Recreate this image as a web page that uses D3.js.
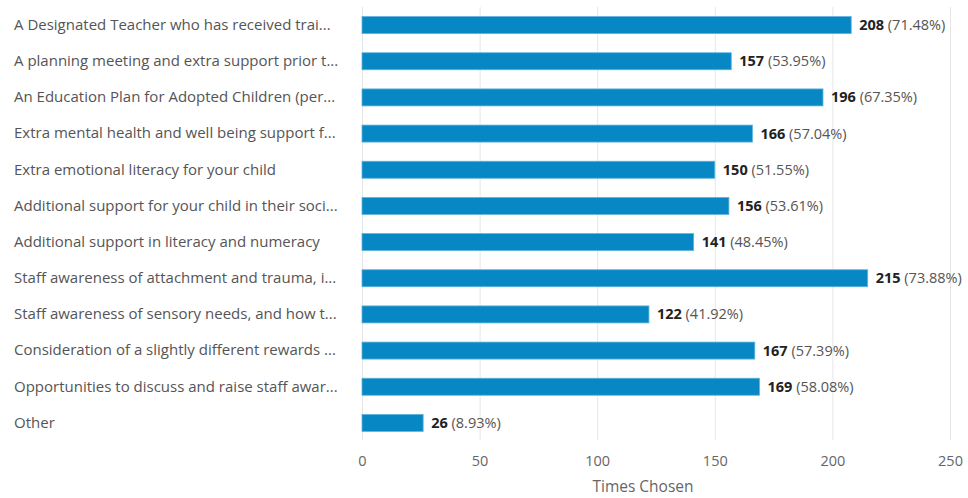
<!DOCTYPE html>
<html>
<head>
<meta charset="utf-8">
<script src="https://cdn.jsdelivr.net/npm/d3@7"></script>
<style>
  html, body { margin: 0; padding: 0; background: #fff; }
  svg { display: block; font-family: "Open Sans", sans-serif; }
</style>
</head>
<body>
<svg id="chart" width="968" height="498"></svg>
<script>
// Answer options (as displayed, truncated) and how often each was chosen
const categories = [
  "A Designated Teacher who has received trai...",
  "A planning meeting and extra support prior t...",
  "An Education Plan for Adopted Children (per...",
  "Extra mental health and well being support f...",
  "Extra emotional literacy for your child",
  "Additional support for your child in their soci...",
  "Additional support in literacy and numeracy",
  "Staff awareness of attachment and trauma, i...",
  "Staff awareness of sensory needs, and how t...",
  "Consideration of a slightly different rewards ...",
  "Opportunities to discuss and raise staff awar...",
  "Other"
];
const counts = [208, 157, 196, 166, 150, 156, 141, 215, 122, 167, 169, 26];
const percents = ["71.48%", "53.95%", "67.35%", "57.04%", "51.55%", "53.61%",
                  "48.45%", "73.88%", "41.92%", "57.39%", "58.08%", "8.93%"];
const xTicks = [0, 50, 100, 150, 200, 250];
const xTitle = "Times Chosen";

const svg = d3.select("#chart");
const plotLeft = 362, plotRight = 950, plotTop = 7, plotBottom = 441;

const x = d3.scaleLinear().domain([0, 250]).range([plotLeft, plotRight]);
const y = d3.scaleBand().domain(categories).range([plotTop, plotBottom])
  .paddingInner(0.53).paddingOuter(0.265);

// vertical gridlines
svg.append("g").selectAll("line").data(xTicks).join("line")
  .attr("x1", d => x(d) + 0.5).attr("x2", d => x(d) + 0.5)
  .attr("y1", plotTop).attr("y2", plotBottom - 1)
  .attr("stroke", "#e6e6e6").attr("stroke-width", 1);

// x axis tick labels
const xAxis = d3.axisBottom(x).tickValues(xTicks).tickSize(0).tickPadding(0);
const gx = svg.append("g").attr("transform", `translate(0, ${plotBottom + 15})`).call(xAxis);
gx.select(".domain").remove();
gx.selectAll("text").attr("fill", "#666").attr("font-size", 14.5)
  .attr("font-family", "Open Sans, sans-serif").attr("dy", "0.71em");

svg.append("text").attr("x", 643).attr("y", 492)
  .attr("text-anchor", "middle").attr("fill", "#666").attr("font-size", 15.5)
  .text(xTitle);

// category labels
const yAxis = d3.axisLeft(y).tickSize(0);
const gy = svg.append("g").attr("transform", "translate(14, 0)").call(yAxis);
gy.select(".domain").remove();
gy.selectAll("text").attr("text-anchor", "start").attr("x", 0)
  .attr("fill", "#555").attr("font-size", 15).attr("font-family", "Open Sans, sans-serif");

// bars
const rows = categories.map((c, i) => ({ c, v: counts[i], p: percents[i] }));
svg.append("g").selectAll("rect").data(rows).join("rect")
  .attr("x", x(0)).attr("y", d => y(d.c))
  .attr("width", d => x(d.v) - x(0)).attr("height", y.bandwidth())
  .attr("fill", "#0787c4").attr("stroke", "#5fb3dd").attr("stroke-width", 0.8);

// value labels
const lbl = svg.append("g").selectAll("text").data(rows).join("text")
  .attr("x", d => x(d.v) + 8).attr("y", d => y(d.c) + y.bandwidth() / 2)
  .attr("dy", "0.35em").attr("font-size", 14.5);
lbl.append("tspan").attr("font-weight", "bold").attr("fill", "#222").text(d => d.v);
lbl.append("tspan").attr("fill", "#555").text(d => " (" + d.p + ")");
</script>
</body>
</html>
